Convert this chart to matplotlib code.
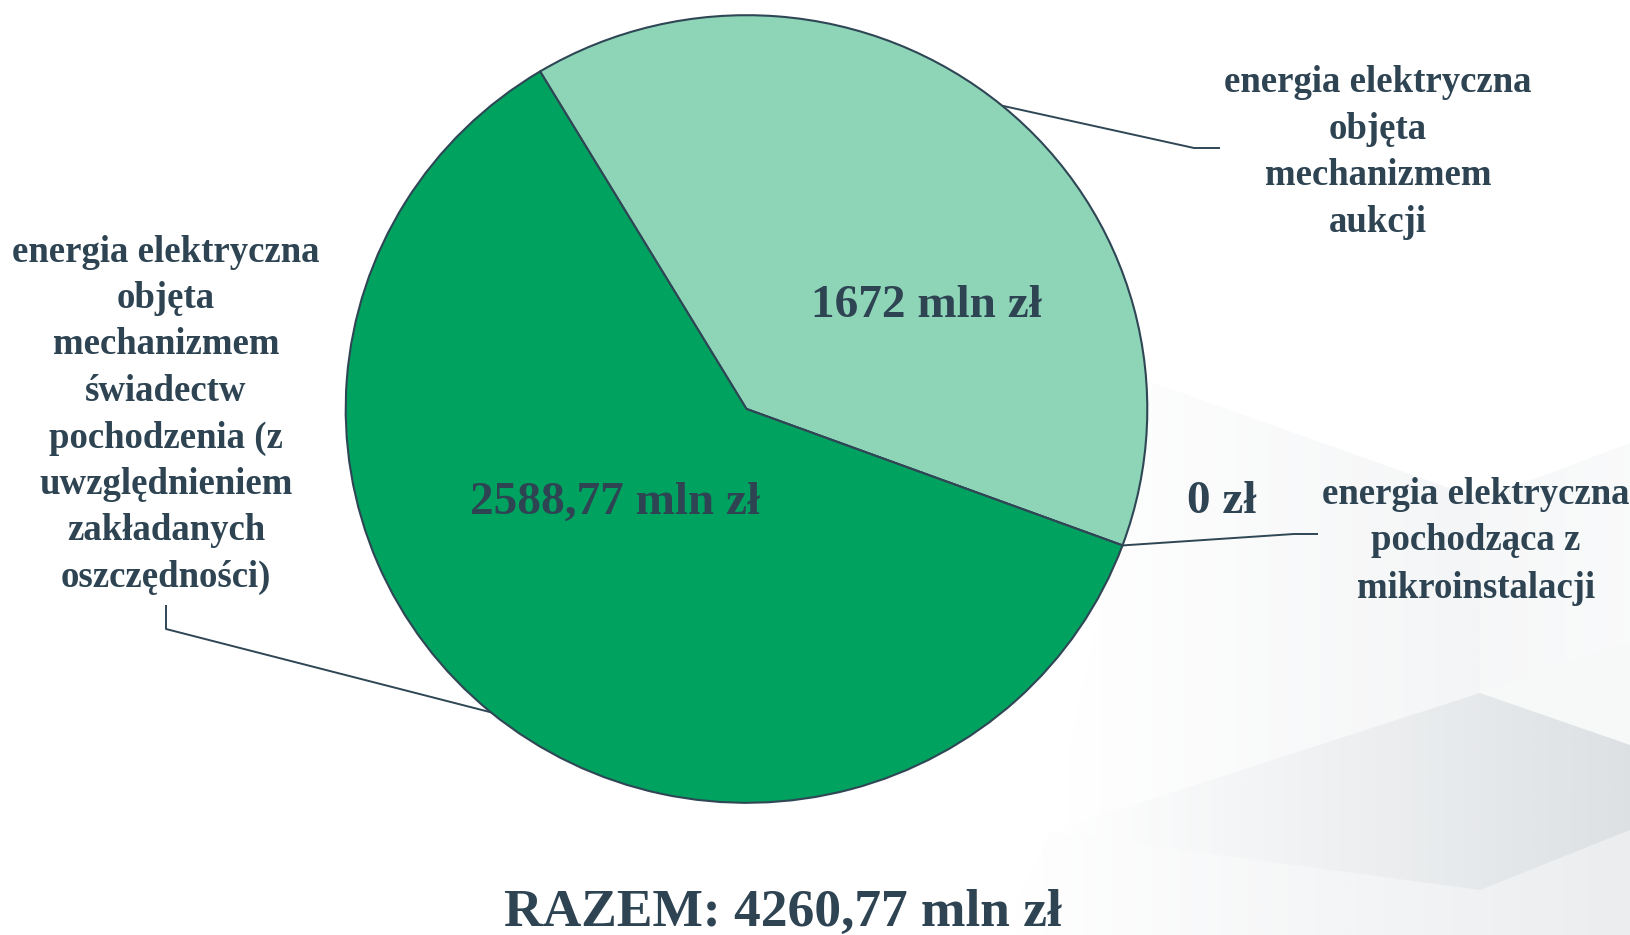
import numpy as np
import matplotlib
matplotlib.use("Agg")
import matplotlib.pyplot as plt
from matplotlib.patches import Polygon

# data
categories = [
    "energia elektryczna\nobjęta\nmechanizmem\naukcji",
    "energia elektryczna\npochodząca z\nmikroinstalacji",
    "energia elektryczna\nobjęta\nmechanizmem\nświadectw\npochodzenia (z\nuwzględnieniem\nzakładanych\noszczędności)",
]
values = [1672, 0, 2588.77]
value_labels = ["1672 mln zł", "0 zł", "2588,77 mln zł"]
total_label = "RAZEM: 4260,77 mln zł"
colors = ["#8ED5B8", "#00A260", "#00A260"]

TXT = "#2E4453"
EDGE = "#2F4655"
FONT = "Liberation Serif"

W, H = 1630, 935
fig = plt.figure(figsize=(W / 100, H / 100), dpi=100)
fig.patch.set_facecolor("white")

# background decoration (pixel coords)
bg = fig.add_axes([0, 0, 1, 1], zorder=0)
bg.set_xlim(0, W); bg.set_ylim(H, 0); bg.axis("off")


def shade(pts, a0, a1, col="#8E9AA4"):
    poly = Polygon(pts, closed=True, facecolor="none", edgecolor="none")
    bg.add_patch(poly)
    xs = [p[0] for p in pts]; ys = [p[1] for p in pts]
    grad = np.linspace(a0, a1, 256)[None, :]
    rgba = np.zeros((1, 256, 4))
    rgba[..., :3] = matplotlib.colors.to_rgb(col)
    rgba[..., 3] = grad
    im = bg.imshow(rgba, extent=(min(xs), max(xs), max(ys), min(ys)), aspect="auto",
                   interpolation="bilinear")
    im.set_clip_path(poly)


shade([(1151, 382), (1480, 499), (1480, 693), (1050, 832)], 0.0, 0.10)
shade([(1480, 499), (1630, 443), (1630, 641), (1480, 693)], 0.08, 0.05)
shade([(1480, 693), (1630, 641), (1630, 745)], 0.07, 0.07)
shade([(1050, 832), (1480, 693), (1630, 745), (1630, 830), (1480, 890)], 0.0, 0.30)
shade([(1000, 935), (1050, 832), (1480, 890), (1630, 830), (1630, 935)], 0.0, 0.18)

# pie (slightly elliptical, as in the source)
cx, cy, rx, ry = 746.5, 409.0, 400.8, 393.8
pax = fig.add_axes([(cx - rx) / W, (H - cy - ry) / H, 2 * rx / W, 2 * ry / H], zorder=1)
wedges, _ = pax.pie(values, colors=colors, startangle=121, counterclock=False,
                    wedgeprops=dict(edgecolor=EDGE, linewidth=1.5))
pax.set_aspect("auto")
pax.set_xlim(-1, 1); pax.set_ylim(-1, 1)
pax.axis("off")

# overlay for text and leader lines
top = fig.add_axes([0, 0, 1, 1], zorder=2)
top.set_xlim(0, W); top.set_ylim(H, 0); top.axis("off")
top.patch.set_alpha(0)


def edge_point(angle_deg):
    a = np.radians(angle_deg)
    return cx + rx * np.cos(a), cy - ry * np.sin(a)


mid = [(w.theta1 + w.theta2) / 2 for w in wedges]

lk = dict(color=EDGE, lw=1.4, solid_capstyle="butt")
# auction slice
x0, y0 = edge_point(mid[0])
top.plot([x0, 1194, 1220], [y0, 148, 148], **lk)
# micro-installation slice (zero)
x0, y0 = edge_point(wedges[1].theta1)
top.plot([x0, 1294, 1318], [y0, 534, 534], **lk)
# certificates slice
x0, y0 = edge_point(mid[2])
top.plot([x0, 166, 166], [y0, 629, 605], **lk)

tk = dict(family=FONT, fontweight="bold", color=TXT, ha="center", va="center")


def block(text, x, y_first, step, size):
    for i, line in enumerate(text.split("\n")):
        top.text(x, y_first + i * step, line, fontsize=size, **tk)


block(categories[0], 1378, 83, 46.4, 26.5)
block(categories[1], 1476, 494, 47, 26.5)
block(categories[2], 166, 252, 46.5, 26.5)

top.text(926, 306, value_labels[0], fontsize=34, **tk)
top.text(1222, 502, value_labels[1], fontsize=34, **tk)
top.text(615, 503, value_labels[2], fontsize=34, **tk)

top.text(783, 913, total_label, fontsize=38.5, **tk)

fig.savefig("out.png", dpi=100, facecolor="white")
